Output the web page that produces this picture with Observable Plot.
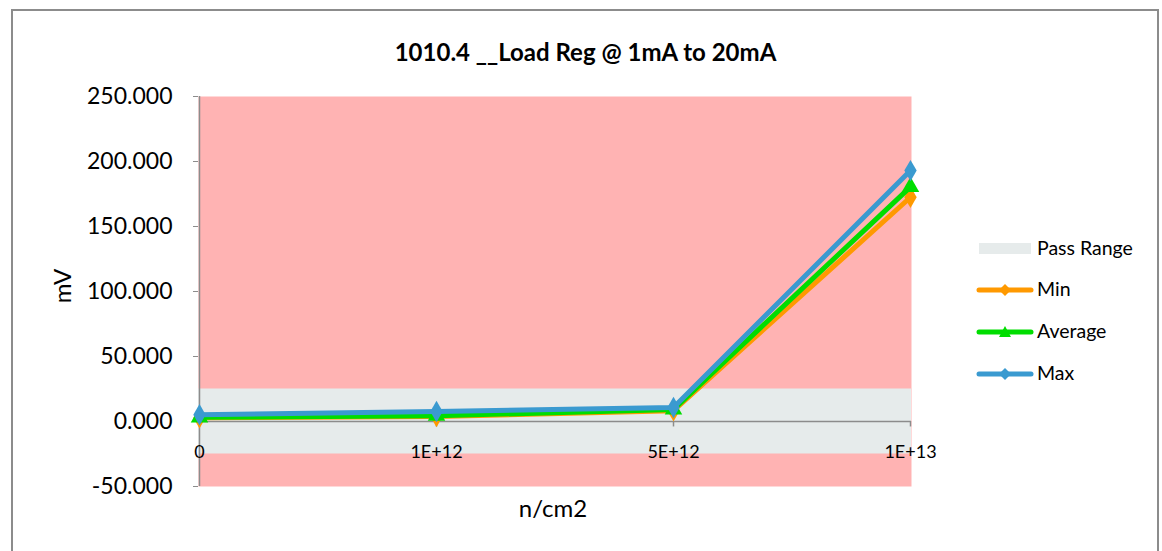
<!DOCTYPE html>
<html>
<head>
<meta charset="utf-8">
<script src="https://cdn.jsdelivr.net/npm/d3@7"></script>
<script src="https://cdn.jsdelivr.net/npm/@observablehq/plot@0.6"></script>
<style>
  html, body { margin:0; padding:0; background:#fff; overflow:hidden; }
  #wrap { position:relative; width:1162px; height:551px; font-family: Lato, "Open Sans", sans-serif; }
  #border { position:absolute; left:11px; top:9px; width:1148px; height:600px; border:2px solid #8c8c8c; box-sizing:border-box; }
  #chart { position:absolute; left:0; top:0; }
  .t { position:absolute; white-space:nowrap; color:#000; }
  #title { left:0; width:1171px; top:37px; text-align:center; font-weight:bold; font-size:24px; }
  #xlab { left:0; width:1106px; top:493px; text-align:center; font-size:24px; }
  #ylab { left:61px; top:286px; font-size:24px; transform: translate(-50%,-50%) rotate(-90deg); }
  .leg { position:absolute; left:977px; font-size:19.5px; }
  .leg span { position:absolute; left:60px; top:-13px; white-space:nowrap; }
  svg g[aria-label="y-axis tick"] path { stroke:#8c8c8c; }
</style>
</head>
<body>
<div id="wrap">
  <div id="border"></div>
  <div id="chart"></div>
  <div class="t" id="title">1010.4 __Load Reg @ 1mA to 20mA</div>
  <div class="t" id="xlab">n/cm2</div>
  <div class="t" id="ylab">mV</div>
  <div id="legend"></div>
</div>
<script>
// ---- data ----
const categories = ["0", "1E+12", "5E+12", "1E+13"];
const minValues = [2.8, 3.8, 8.3, 172.5];
const avgValues = [3.2, 4.4, 9.2, 180.5];
const maxValues = [5.2, 7.7, 10.8, 193.0];
const passRange = [-25, 25];
const yTicks = [-50, 0, 50, 100, 150, 200, 250];
const seriesNames = ["Min", "Average", "Max"];
const legendPass = "Pass Range";

const colors = {Min: "#FF9900", Average: "#00DD00", Max: "#3A9AD0"};
const symbols = {Min: "diamond", Average: "triangle", Max: "diamond"};
const seriesValues = {Min: minValues, Average: avgValues, Max: maxValues};

const rows = [];
for (const s of seriesNames) {
  categories.forEach((c, i) => rows.push({series: s, x: c, y: seriesValues[s][i]}));
}

const lineMarks = [];
for (const s of seriesNames) {
  const data = rows.filter(r => r.series === s);
  lineMarks.push(Plot.line(data, {x: "x", y: "y", stroke: colors[s], strokeWidth: 5, strokeLinejoin: "round", strokeLinecap: "round"}));
  lineMarks.push(Plot.dot(data, {x: "x", y: "y", fill: colors[s], symbol: symbols[s], r: 6.5, stroke: null}));
}

const chart = Plot.plot({
  width: 1162,
  height: 551,
  marginLeft: 198,
  marginRight: 251,
  marginTop: 96,
  marginBottom: 65,
  x: {type: "point", domain: categories, padding: 0, axis: null},
  y: {domain: [-50, 250], axis: null},
  style: {fontFamily: "Lato, 'Open Sans', sans-serif", background: "transparent", color: "#000"},
  marks: [
    Plot.frame({fill: "#FFB3B3", stroke: null}),
    Plot.rect([passRange], {y1: d => d[0], y2: d => d[1], fill: "#E6EBEB"}),
    Plot.ruleY([0], {stroke: "#8c8c8c", strokeWidth: 1.5}),
    Plot.ruleX(categories, {x: d => d, y1: 0, y2: -4.2, stroke: "#8c8c8c", strokeWidth: 1.5}),
    Plot.ruleX([categories[0]], {stroke: "#8c8c8c", strokeWidth: 1.5}),
    Plot.axisY({ticks: yTicks, tickFormat: d => d.toFixed(3), tickSize: 5, tickPadding: 21, fontSize: 23, label: null}),
    Plot.text(categories, {x: d => d, y: 0, dy: 31, fontSize: 18, fill: "#000"}),
    ...lineMarks
  ]
});
document.getElementById("chart").appendChild(chart);

// ---- legend ----
const legend = document.getElementById("legend");
const items = [{name: legendPass, kind: "rect"}, ...seriesNames.map(n => ({name: n, kind: "line"}))];
const legY = [249, 290, 332, 374];
items.forEach((it, i) => {
  const d = document.createElement("div");
  d.className = "leg";
  d.style.top = legY[i] + "px";
  let sym;
  if (it.kind === "rect") {
    sym = `<svg width="56" height="14" style="position:absolute;left:0;top:-6px;overflow:visible"><rect x="2" y="0" width="52" height="11" fill="#E6EBEB"/></svg>`;
  } else {
    const c = colors[it.name];
    const mk = symbols[it.name] === "triangle"
      ? `<path d="M28,-6 L34,5 L22,5 Z" fill="${c}"/>`
      : `<path d="M28,-6 L34,0 L28,6 L22,0 Z" fill="${c}"/>`;
    sym = `<svg width="56" height="14" style="position:absolute;left:0;top:0;overflow:visible"><line x1="2" y1="0" x2="54" y2="0" stroke="${c}" stroke-width="5" stroke-linecap="round"/>${mk}</svg>`;
  }
  d.innerHTML = sym + `<span>${it.name}</span>`;
  legend.appendChild(d);
});
</script>
</body>
</html>
